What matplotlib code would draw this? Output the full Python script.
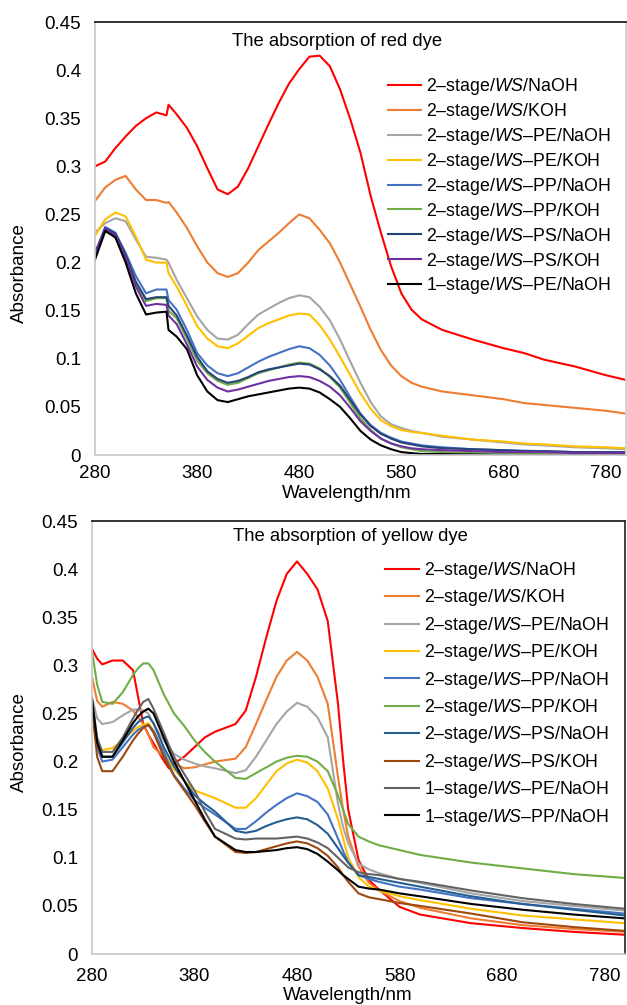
import matplotlib

matplotlib.use("Agg")
import matplotlib.pyplot as plt
from matplotlib.ticker import FuncFormatter, MultipleLocator

plt.rcParams.update({
    "font.family": "Liberation Sans",
    "mathtext.fontset": "custom",
    "mathtext.rm": "Liberation Sans",
    "mathtext.it": "Liberation Sans:italic",
})

X_TICKS = [280, 380, 480, 580, 680, 780]

# ---------------- red dye (top panel) ----------------
RED_WL = [280, 290, 300, 310, 320, 330, 340, 350, 352, 360, 370, 380, 390, 400, 410, 420,
          430, 440, 450, 460, 470, 480, 490, 500, 510, 520, 530, 540, 550, 560, 570, 580,
          590, 600, 620, 650, 680, 700, 720, 750, 780, 800]

red_ws_naoh = [0.300, 0.305, 0.319, 0.331, 0.342, 0.350, 0.356, 0.353, 0.364, 0.354, 0.340,
               0.321, 0.298, 0.276, 0.271, 0.279, 0.298, 0.321, 0.344, 0.366, 0.386, 0.401,
               0.414, 0.415, 0.404, 0.380, 0.349, 0.314, 0.269, 0.231, 0.196, 0.168, 0.151,
               0.141, 0.130, 0.120, 0.111, 0.106, 0.099, 0.092, 0.083, 0.078]
red_ws_koh = [0.264, 0.278, 0.286, 0.290, 0.276, 0.265, 0.265, 0.262, 0.263, 0.252, 0.236,
              0.217, 0.200, 0.189, 0.185, 0.189, 0.200, 0.213, 0.222, 0.231, 0.241, 0.250,
              0.246, 0.234, 0.220, 0.200, 0.177, 0.154, 0.130, 0.109, 0.093, 0.082, 0.075,
              0.071, 0.066, 0.062, 0.058, 0.054, 0.052, 0.049, 0.046, 0.043]
red_pe_naoh = [0.231, 0.241, 0.246, 0.243, 0.224, 0.206, 0.205, 0.203, 0.200, 0.182, 0.163,
               0.144, 0.130, 0.121, 0.120, 0.125, 0.136, 0.146, 0.152, 0.158, 0.163, 0.166,
               0.164, 0.154, 0.140, 0.120, 0.097, 0.075, 0.055, 0.040, 0.032, 0.028, 0.025,
               0.023, 0.019, 0.016, 0.013, 0.011, 0.010, 0.008, 0.007, 0.006]
red_pe_koh = [0.228, 0.245, 0.252, 0.248, 0.227, 0.203, 0.200, 0.200, 0.189, 0.175, 0.155,
              0.134, 0.121, 0.113, 0.111, 0.116, 0.124, 0.132, 0.137, 0.141, 0.145, 0.147,
              0.146, 0.135, 0.120, 0.102, 0.083, 0.064, 0.048, 0.036, 0.030, 0.026, 0.024,
              0.023, 0.020, 0.016, 0.014, 0.012, 0.011, 0.009, 0.008, 0.007]
red_pp_naoh = [0.207, 0.237, 0.231, 0.210, 0.186, 0.168, 0.172, 0.172, 0.161, 0.151, 0.130,
               0.106, 0.093, 0.085, 0.082, 0.085, 0.091, 0.097, 0.102, 0.106, 0.110, 0.113,
               0.111, 0.104, 0.093, 0.078, 0.060, 0.043, 0.031, 0.023, 0.018, 0.014, 0.012,
               0.010, 0.008, 0.006, 0.005, 0.0045, 0.004, 0.003, 0.003, 0.0025]
red_pp_koh = [0.205, 0.232, 0.228, 0.205, 0.177, 0.160, 0.163, 0.163, 0.150, 0.142, 0.121,
              0.098, 0.085, 0.077, 0.073, 0.075, 0.080, 0.085, 0.088, 0.091, 0.094, 0.096,
              0.095, 0.090, 0.081, 0.070, 0.054, 0.038, 0.026, 0.017, 0.012, 0.008, 0.006,
              0.004, 0.003, 0.002, 0.001, 0.001, 0.001, 0.0005, 0.0, 0.0]
red_ps_naoh = [0.210, 0.236, 0.230, 0.208, 0.180, 0.162, 0.164, 0.164, 0.155, 0.145, 0.124,
               0.102, 0.087, 0.079, 0.075, 0.077, 0.081, 0.086, 0.089, 0.091, 0.093, 0.095,
               0.094, 0.089, 0.082, 0.072, 0.057, 0.042, 0.030, 0.022, 0.017, 0.013, 0.011,
               0.009, 0.007, 0.006, 0.005, 0.004, 0.004, 0.003, 0.003, 0.003]
red_ps_koh = [0.210, 0.235, 0.228, 0.205, 0.175, 0.155, 0.157, 0.156, 0.145, 0.136, 0.115,
              0.092, 0.078, 0.070, 0.066, 0.068, 0.071, 0.074, 0.077, 0.079, 0.081, 0.082,
              0.081, 0.077, 0.071, 0.062, 0.049, 0.035, 0.025, 0.017, 0.012, 0.009, 0.007,
              0.006, 0.005, 0.004, 0.003, 0.003, 0.003, 0.002, 0.002, 0.002]
red_1st_pe_naoh = [0.203, 0.233, 0.226, 0.200, 0.168, 0.146, 0.148, 0.149, 0.130, 0.123, 0.110,
                   0.083, 0.066, 0.057, 0.055, 0.058, 0.061, 0.063, 0.065, 0.067, 0.069, 0.070,
                   0.069, 0.065, 0.058, 0.050, 0.038, 0.025, 0.016, 0.010, 0.006, 0.003, 0.002,
                   0.001, 0.001, 0.0005, 0.0, 0.0, 0.0, 0.0, 0.0, 0.0]

RED_LABELS = [
    r"2–stage/$\mathit{WS}$/NaOH",
    r"2–stage/$\mathit{WS}$/KOH",
    r"2–stage/$\mathit{WS}$–PE/NaOH",
    r"2–stage/$\mathit{WS}$–PE/KOH",
    r"2–stage/$\mathit{WS}$–PP/NaOH",
    r"2–stage/$\mathit{WS}$–PP/KOH",
    r"2–stage/$\mathit{WS}$–PS/NaOH",
    r"2–stage/$\mathit{WS}$–PS/KOH",
    r"1–stage/$\mathit{WS}$–PE/NaOH",
]
RED_COLORS = ["#FF0000", "#ED7D31", "#A5A5A5", "#FFC000", "#4472C4", "#70AD47",
              "#264478", "#7030A0", "#000000"]
RED_SERIES = [red_ws_naoh, red_ws_koh, red_pe_naoh, red_pe_koh, red_pp_naoh, red_pp_koh,
              red_ps_naoh, red_ps_koh, red_1st_pe_naoh]

# ---------------- yellow dye (bottom panel) ----------------
YEL_WL = [280, 285, 290, 300, 310, 320, 325, 330, 335, 340, 350, 355, 360, 370, 380, 390,
          400, 420, 430, 440, 450, 460, 470, 480, 490, 500, 510, 520, 525, 530, 540, 550,
          560, 580, 600, 650, 700, 750, 800]

yel_ws_naoh = [0.317, 0.307, 0.301, 0.305, 0.305, 0.295, 0.267, 0.239, 0.228, 0.219, 0.201,
               0.193, 0.198, 0.205, 0.215, 0.225, 0.231, 0.239, 0.253, 0.288, 0.329, 0.367,
               0.395, 0.408, 0.395, 0.379, 0.346, 0.260, 0.201, 0.150, 0.098, 0.077, 0.067,
               0.049, 0.041, 0.032, 0.027, 0.023, 0.020]
yel_ws_koh = [0.288, 0.263, 0.257, 0.262, 0.260, 0.253, 0.246, 0.239, 0.228, 0.215, 0.205,
              0.200, 0.198, 0.193, 0.194, 0.197, 0.200, 0.203, 0.215, 0.239, 0.264, 0.288,
              0.305, 0.314, 0.305, 0.288, 0.260, 0.184, 0.150, 0.122, 0.091, 0.074, 0.066,
              0.055, 0.048, 0.037, 0.030, 0.026, 0.023]
yel_pe_naoh = [0.267, 0.245, 0.239, 0.241, 0.248, 0.254, 0.254, 0.253, 0.250, 0.239, 0.222,
               0.215, 0.208, 0.202, 0.198, 0.195, 0.193, 0.188, 0.191, 0.205, 0.222, 0.239,
               0.252, 0.261, 0.257, 0.246, 0.225, 0.156, 0.132, 0.115, 0.094, 0.088, 0.084,
               0.078, 0.074, 0.063, 0.055, 0.050, 0.045]
yel_pe_koh = [0.250, 0.220, 0.212, 0.214, 0.222, 0.232, 0.236, 0.238, 0.240, 0.232, 0.210,
              0.200, 0.192, 0.180, 0.170, 0.166, 0.162, 0.152, 0.152, 0.162, 0.176, 0.190,
              0.198, 0.202, 0.199, 0.190, 0.172, 0.140, 0.120, 0.100, 0.080, 0.070, 0.066,
              0.060, 0.056, 0.047, 0.040, 0.036, 0.032]
yel_pp_naoh = [0.260, 0.215, 0.200, 0.202, 0.215, 0.228, 0.233, 0.236, 0.238, 0.232, 0.210,
               0.197, 0.186, 0.172, 0.160, 0.152, 0.145, 0.130, 0.130, 0.138, 0.147, 0.155,
               0.162, 0.167, 0.164, 0.158, 0.145, 0.120, 0.107, 0.095, 0.082, 0.078, 0.075,
               0.070, 0.067, 0.058, 0.052, 0.047, 0.042]
yel_pp_koh = [0.315, 0.280, 0.262, 0.260, 0.272, 0.290, 0.297, 0.302, 0.302, 0.295, 0.270,
              0.260, 0.250, 0.237, 0.222, 0.210, 0.200, 0.183, 0.182, 0.188, 0.194, 0.200,
              0.204, 0.206, 0.205, 0.200, 0.190, 0.165, 0.150, 0.135, 0.122, 0.117, 0.113,
              0.108, 0.103, 0.095, 0.089, 0.083, 0.079]
yel_ps_naoh = [0.262, 0.220, 0.205, 0.205, 0.220, 0.235, 0.241, 0.245, 0.247, 0.240, 0.215,
               0.205, 0.195, 0.180, 0.165, 0.156, 0.148, 0.128, 0.126, 0.128, 0.133, 0.137,
               0.140, 0.142, 0.140, 0.134, 0.125, 0.110, 0.102, 0.095, 0.082, 0.080, 0.078,
               0.074, 0.070, 0.060, 0.052, 0.046, 0.040]
yel_ps_koh = [0.255, 0.205, 0.190, 0.190, 0.205, 0.222, 0.229, 0.235, 0.238, 0.230, 0.205,
              0.195, 0.185, 0.170, 0.155, 0.138, 0.122, 0.106, 0.105, 0.106, 0.109, 0.112,
              0.115, 0.117, 0.115, 0.110, 0.102, 0.090, 0.082, 0.075, 0.063, 0.059, 0.057,
              0.053, 0.050, 0.042, 0.033, 0.028, 0.024]
yel_1st_pe_naoh = [0.265, 0.225, 0.210, 0.210, 0.225, 0.245, 0.254, 0.262, 0.265, 0.255, 0.230,
                   0.217, 0.205, 0.187, 0.170, 0.148, 0.130, 0.120, 0.119, 0.120, 0.120, 0.120,
                   0.121, 0.122, 0.120, 0.116, 0.110, 0.100, 0.095, 0.090, 0.085, 0.083, 0.082,
                   0.078, 0.075, 0.066, 0.058, 0.052, 0.047]
yel_1st_pp_naoh = [0.265, 0.220, 0.205, 0.205, 0.222, 0.240, 0.247, 0.252, 0.255, 0.250, 0.225,
                   0.212, 0.200, 0.180, 0.160, 0.140, 0.122, 0.108, 0.106, 0.106, 0.107, 0.108,
                   0.110, 0.111, 0.109, 0.104, 0.096, 0.087, 0.082, 0.078, 0.070, 0.068, 0.067,
                   0.063, 0.060, 0.052, 0.046, 0.041, 0.037]

YEL_LABELS = RED_LABELS[:7] + [
    r"2–stage/$\mathit{WS}$–PS/KOH",
    r"1–stage/$\mathit{WS}$–PE/NaOH",
    r"1–stage/$\mathit{WS}$–PP/NaOH",
]
YEL_COLORS = ["#FF0000", "#ED7D31", "#A5A5A5", "#FFC000", "#4472C4", "#70AD47",
              "#255E91", "#9E480E", "#636363", "#000000"]
YEL_SERIES = [yel_ws_naoh, yel_ws_koh, yel_pe_naoh, yel_pe_koh, yel_pp_naoh, yel_pp_koh,
              yel_ps_naoh, yel_ps_koh, yel_1st_pe_naoh, yel_1st_pp_naoh]


def fmt(v, _pos):
    return f"{v:.2f}".rstrip("0").rstrip(".") if v else "0"


def style(ax, right_color):
    ax.set_xlim(280, 800)
    ax.set_ylim(0, 0.45)
    ax.set_xticks(X_TICKS)
    ax.yaxis.set_major_locator(MultipleLocator(0.05))
    ax.yaxis.set_major_formatter(FuncFormatter(fmt))
    ax.tick_params(length=0, labelsize=13.5)
    ax.tick_params(axis="y", pad=10)
    ax.tick_params(axis="x", pad=7)
    for side in ["left", "bottom"]:
        ax.spines[side].set_color("#C8C8C8")
        ax.spines[side].set_linewidth(1.2)
    ax.spines["top"].set_color("#222222")
    ax.spines["top"].set_linewidth(1.3)
    ax.spines["right"].set_color(right_color)
    ax.spines["right"].set_linewidth(1.3)
    ax.set_xlabel("Wavelength/nm", fontsize=13.5, labelpad=2)
    ax.set_ylabel("Absorbance", fontsize=13.5, labelpad=8)


fig = plt.figure(figsize=(6.27, 10.05), dpi=100)
ax1 = fig.add_axes([95 / 627, 550 / 1005, 531 / 627, 433 / 1005])
ax2 = fig.add_axes([92 / 627, 51 / 1005, 533 / 627, 433 / 1005])

for series, label, color in zip(RED_SERIES, RED_LABELS, RED_COLORS, strict=True):
    ax1.plot(RED_WL, series, color=color, linewidth=1.5, label=label)
style(ax1, "#D0D0D0")
ax1.yaxis.set_label_coords(-0.126, 0.42)
ax1.xaxis.set_label_coords(0.475, -0.07)
ax1.text(0.455, 0.954, "The absorption of red dye", transform=ax1.transAxes,
         ha="center", va="center", fontsize=13.3)
ax1.legend(loc="upper left", bbox_to_anchor=(0.551, 0.875), frameon=False, fontsize=12.8,
           handlelength=1.9, handletextpad=0.25, labelspacing=0.22, borderpad=0,
           borderaxespad=0)

for series, label, color in zip(YEL_SERIES, YEL_LABELS, YEL_COLORS, strict=True):
    ax2.plot(YEL_WL, series, color=color, linewidth=1.5, label=label)
style(ax2, "#333333")
ax2.yaxis.set_label_coords(-0.12, 0.49)
ax2.xaxis.set_label_coords(0.48, -0.077)
ax2.tick_params(axis="x", pad=10)
ax2.text(0.484, 0.965, "The absorption of yellow dye", transform=ax2.transAxes,
         ha="center", va="center", fontsize=13.3)
ax2.legend(loc="upper left", bbox_to_anchor=(0.55, 0.91), frameon=False, fontsize=12.8,
           handlelength=1.9, handletextpad=0.3, labelspacing=0.36, borderpad=0,
           borderaxespad=0)

fig.savefig("out.png", dpi=100, facecolor="white")
